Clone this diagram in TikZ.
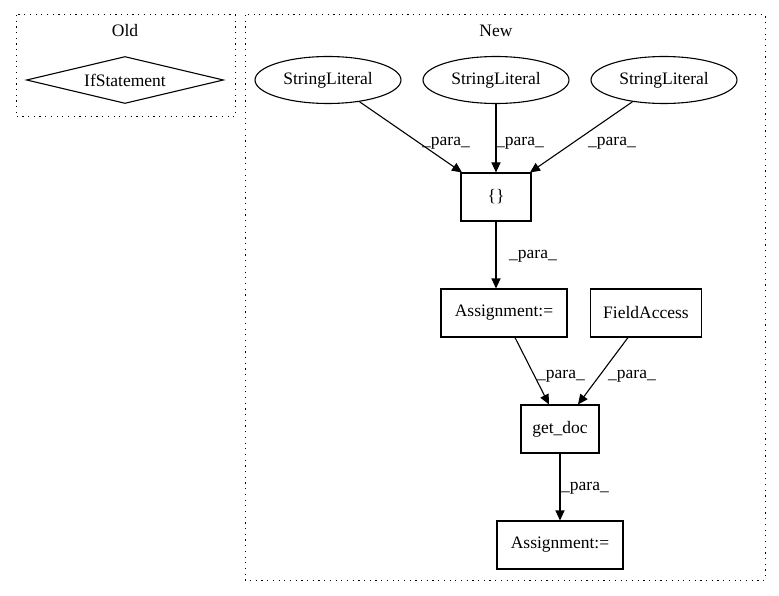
\documentclass[tikz,border=0pt]{standalone}
\usepackage{fontspec}
\setmainfont{Liberation Serif}
\usetikzlibrary{arrows.meta,shapes.geometric}
\begin{document}
\begin{tikzpicture}[x=1pt,y=-1pt,
  every node/.style={font=\fontsize{17.5pt}{20pt}\selectfont},
  cluster/.style={draw, line width=1pt, dash pattern=on 1.2pt off 4.5pt},
  box/.style={draw, line width=1.1pt, rectangle, inner sep=0pt},
  lit/.style={draw, line width=1.1pt, ellipse, inner sep=0pt, minimum width=146pt, minimum height=47pt},
  cond/.style={draw, line width=1.1pt, diamond, aspect=4.2, inner sep=0pt, minimum width=197pt, minimum height=47pt},
  edge/.style={draw, line width=1.1pt, -{Triangle[length=10pt,width=9pt]}},
  elab/.style={font=\fontsize{17.5pt}{20pt}\selectfont, inner sep=0pt}
]
\useasboundingbox (0,0) rectangle (779,596);
% clusters
\draw[cluster] (16,15) rectangle (235,117);
\node (oldlab) at (125,31) {Old};
\draw[cluster] (245,15) rectangle (765,580);
\node (newlab) at (496,31) {New};
% nodes
\node[cond] (ifs) at (125,80) {IfStatement};
\node[lit] (s1) at (328,80) {StringLiteral};
\node[lit] (s2) at (496,80) {StringLiteral};
\node[lit] (s3) at (664,80) {StringLiteral};
\node[box, minimum width=70pt, minimum height=48pt] (br) at (496,197) {\{\}};
\node[box, minimum width=126pt, minimum height=48pt] (as1) at (504,313) {Assignment:=};
\node[box, minimum width=111pt, minimum height=48pt] (fa) at (646,313) {FieldAccess};
\node[box, minimum width=78pt, minimum height=48pt] (gd) at (560,429) {get\_doc};
\node[box, minimum width=126pt, minimum height=48pt] (as2) at (560,545) {Assignment:=};
% edges
\draw[edge] (s1) -- ([xshift=-34pt]br.north);
\draw[edge] (s2) -- (br.north);
\draw[edge] (s3) -- ([xshift=34pt]br.north);
\draw[edge] (br.south) -- (br.south |- as1.north);
\draw[edge] ([xshift=11pt]as1.south) -- ([xshift=-11pt]gd.north);
\draw[edge] ([xshift=-18pt]fa.south) -- ([xshift=18pt]gd.north);
\draw[edge] (gd.south) -- (as2.north);
% edge labels
\node[elab] (l1) at (446,143) {\_para\_};
\node[elab] (l2) at (520,143) {\_para\_};
\node[elab] (l3) at (612,143) {\_para\_};
\node[elab] (l4) at (533,256) {\_para\_};
\node[elab] (l5) at (561,376) {\_para\_};
\node[elab] (l6) at (632,376) {\_para\_};
\node[elab] (l7) at (585,488) {\_para\_};
\end{tikzpicture}
\end{document}
